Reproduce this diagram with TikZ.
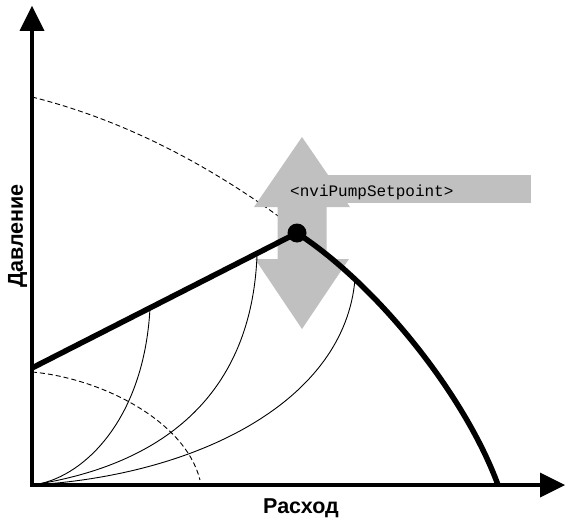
\documentclass[tikz,border=0pt]{standalone}
\usepackage{fontspec}
\setmainfont{Liberation Sans}
\newfontfamily\monofont{Liberation Mono}
\usetikzlibrary{arrows.meta}
\definecolor{arrowgrey}{RGB}{192,192,192}
\tikzset{
  axisline/.style={line width=3.7pt, line join=miter,
    {Triangle[width=25pt,length=25pt,line width=0pt]}-{Triangle[width=25pt,length=25pt,line width=0pt]}},
  thickcurve/.style={line width=5.5pt, line cap=butt},
  thincurve/.style={line width=0.9pt},
  dashcurve/.style={line width=0.9pt, dash pattern=on 5pt off 3pt},
  axislabel/.style={font=\fontsize{21.5}{24}\selectfont\bfseries, inner sep=0pt},
  setlabel/.style={font=\monofont\fontsize{16}{18}\selectfont, inner sep=0pt, anchor=base west},
  opdot/.style={circle, fill=black, minimum size=19pt, inner sep=0pt},
  greyarrow/.style={fill=arrowgrey, draw=none}
}
\begin{document}
\begin{tikzpicture}[x=1pt,y=-1pt]
\useasboundingbox (0,0) rectangle (565,519);
% coordinates
\coordinate (O) at (32,485);
\coordinate (Ytip) at (32,6);
\coordinate (Xtip) at (565,485);
\coordinate (Hstart) at (32,368);
\coordinate (Qend) at (498,485);
% dashed curves
\draw[dashcurve] (32,97) .. controls (120,119) and (209,163) .. (297,230);
\draw[dashcurve] (32,372) .. controls (100,378) and (185,420) .. (200,480);
% grey double arrow with bar
\fill[greyarrow] (302,137) -- (350,207) -- (326.5,207) -- (326.5,259) -- (349,259)
  -- (302,329) -- (255,259) -- (277.5,259) -- (277.5,207) -- (254,207) -- cycle;
\fill[greyarrow] (326,175) rectangle (531,203);
\node[setlabel] (sp) at (290,196.7) {<nviPumpSetpoint>};
% operating point
\node[opdot] (op) at (297,233) {};
% thin system curves
\draw[thincurve] (O) .. controls (80,480) and (144,423) .. (150,308);
\draw[thincurve] (O) .. controls (130,470) and (250,420) .. (257,256);
\draw[thincurve] (O) .. controls (200,475) and (345,400) .. (355,279);
% thick line and pump curve
\draw[thickcurve] (Hstart) -- (op.center);
\draw[thickcurve] (op.center) .. controls (377,285) and (465,395) .. (Qend);
% axes
\draw[axisline] (Ytip) -- (O) -- (Xtip);
% labels
\node[axislabel, anchor=base] (xl) at (301,513) {Расход};
\node[axislabel, anchor=base, rotate=90] (yl) at (23,236) {Давление};
\end{tikzpicture}
\end{document}
